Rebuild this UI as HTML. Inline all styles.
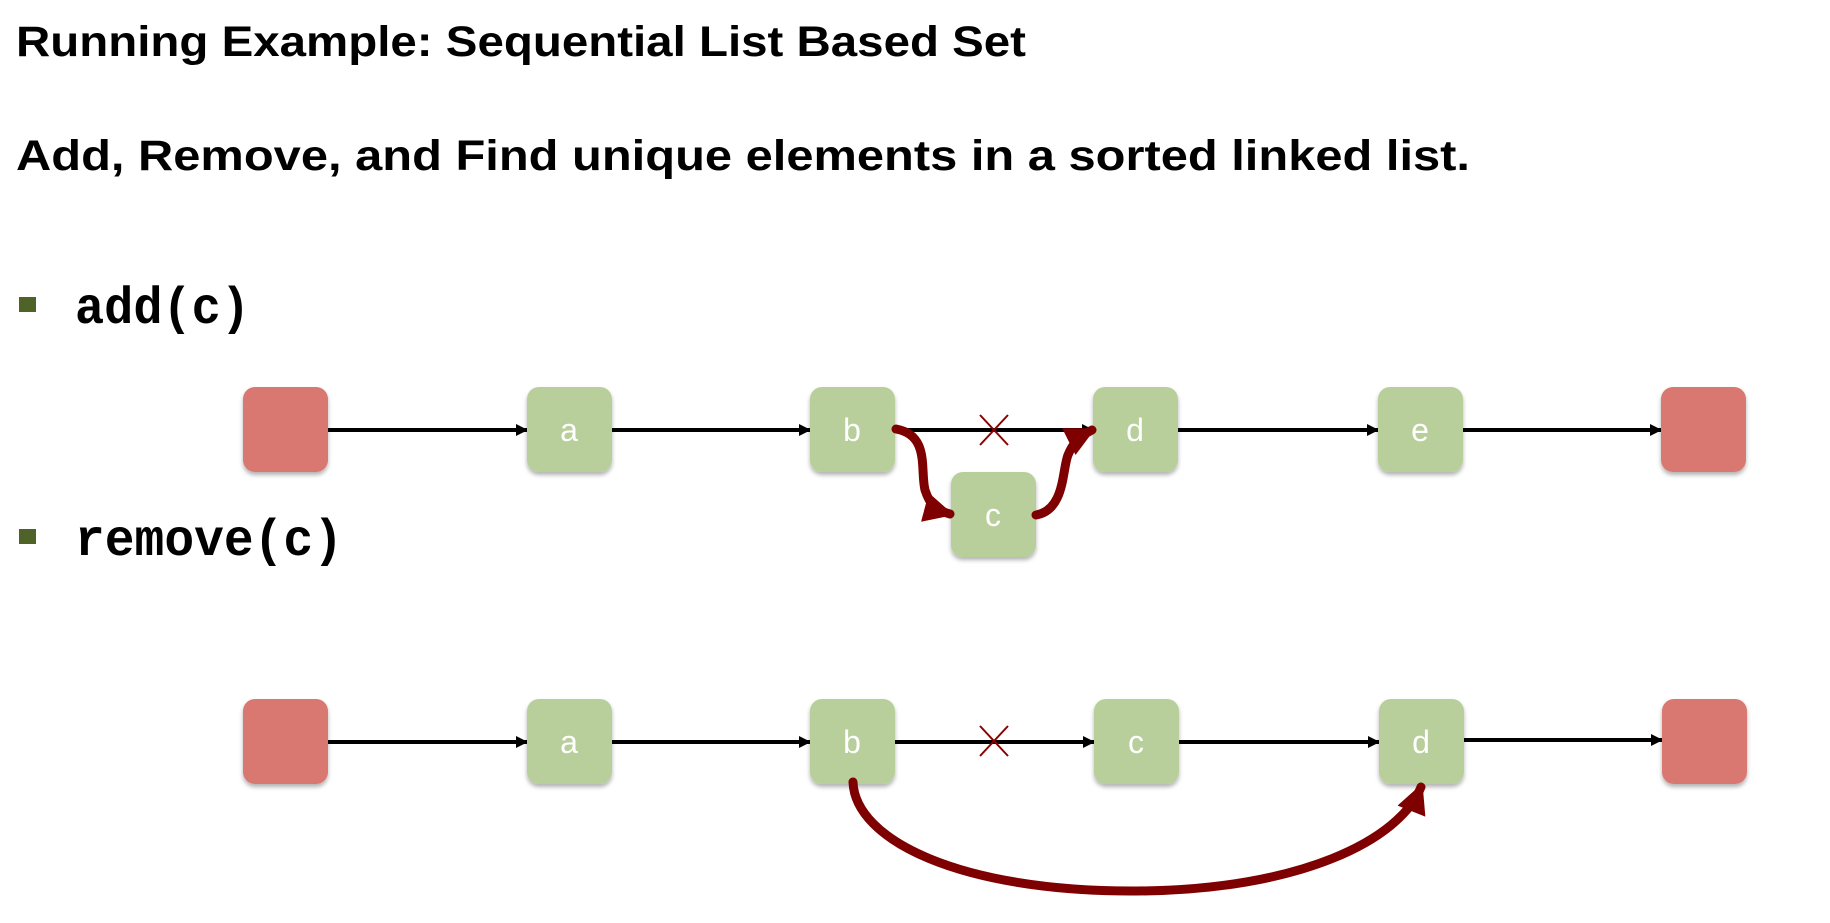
<!DOCTYPE html>
<html><head><style>
html,body{margin:0;padding:0;background:#fff;}
svg{display:block;}
</style></head><body>
<svg width="1830" height="923" viewBox="0 0 1830 923" xmlns="http://www.w3.org/2000/svg">
<defs>
<marker id="ah" markerWidth="12" markerHeight="12" refX="11" refY="6" orient="auto" markerUnits="userSpaceOnUse"><path d="M0,0 L12,6 L0,12 z" fill="#000"/></marker>
<marker id="rh" markerWidth="32" markerHeight="30" refX="26" refY="15" orient="auto" markerUnits="userSpaceOnUse"><path d="M0,0 L30,15 L0,30 z" fill="#7f0000"/></marker>
<filter id="sh" x="-20%" y="-20%" width="140%" height="140%"><feDropShadow dx="0" dy="3" stdDeviation="2" flood-color="#000" flood-opacity="0.3"/></filter>
</defs>
<g font-family="'Liberation Sans', sans-serif" font-weight="bold" fill="#000">
<text x="16" y="56" font-size="43" textLength="1010" lengthAdjust="spacingAndGlyphs">Running Example: Sequential List Based Set</text>
<text x="16" y="170" font-size="43" textLength="1454" lengthAdjust="spacingAndGlyphs">Add, Remove, and Find unique elements in a sorted linked list.</text>
</g>
<rect x="19" y="297" width="17" height="15" fill="#4f6228"/>
<rect x="19" y="529" width="17" height="15" fill="#4f6228"/>
<g font-family="'Liberation Mono', monospace" font-weight="bold" font-size="52" fill="#000">
<text x="75" y="323" textLength="175" lengthAdjust="spacingAndGlyphs">add(c)</text>
<text x="75" y="555" textLength="268" lengthAdjust="spacingAndGlyphs">remove(c)</text>
</g>
<g stroke="#000" stroke-width="4" fill="none" marker-end="url(#ah)">
<line x1="328" y1="430" x2="527" y2="430"/>
<line x1="612" y1="430" x2="810" y2="430"/>
<line x1="895" y1="430" x2="1093" y2="430"/>
<line x1="1178" y1="430" x2="1378" y2="430"/>
<line x1="1463" y1="430" x2="1661" y2="430"/>
</g>
<g stroke="#000" stroke-width="4" fill="none" marker-end="url(#ah)">
<line x1="328" y1="742" x2="527" y2="742"/>
<line x1="612" y1="742" x2="810" y2="742"/>
<line x1="895" y1="742" x2="1094" y2="742"/>
<line x1="1179" y1="742" x2="1379" y2="742"/>
<line x1="1464" y1="740" x2="1662" y2="740"/>
</g>
<g filter="url(#sh)">
<rect x="243" y="387" width="85" height="85" rx="12" fill="#d97871"/>
<rect x="527" y="387" width="85" height="85" rx="12" fill="#b8cf9b"/>
<rect x="810" y="387" width="85" height="85" rx="12" fill="#b8cf9b"/>
<rect x="1093" y="387" width="85" height="85" rx="12" fill="#b8cf9b"/>
<rect x="1378" y="387" width="85" height="85" rx="12" fill="#b8cf9b"/>
<rect x="1661" y="387" width="85" height="85" rx="12" fill="#d97871"/>
<rect x="951" y="472" width="85" height="85" rx="12" fill="#b8cf9b"/>
<rect x="243" y="699" width="85" height="85" rx="12" fill="#d97871"/>
<rect x="527" y="699" width="85" height="85" rx="12" fill="#b8cf9b"/>
<rect x="810" y="699" width="85" height="85" rx="12" fill="#b8cf9b"/>
<rect x="1094" y="699" width="85" height="85" rx="12" fill="#b8cf9b"/>
<rect x="1379" y="699" width="85" height="85" rx="12" fill="#b8cf9b"/>
<rect x="1662" y="699" width="85" height="85" rx="12" fill="#d97871"/>
</g>
<g font-family="'Liberation Sans', sans-serif" font-size="32" fill="#fff" text-anchor="middle">
<text x="569" y="441">a</text><text x="852" y="441">b</text><text x="1135" y="441">d</text><text x="1420" y="441">e</text>
<text x="993" y="526">c</text>
<text x="569" y="753">a</text><text x="852" y="753">b</text><text x="1136" y="753">c</text><text x="1421" y="753">d</text>
</g>
<g stroke="#8b0000" stroke-width="2">
<line x1="980" y1="415" x2="1008" y2="445"/><line x1="1008" y1="415" x2="980" y2="445"/>
<line x1="980" y1="726" x2="1008" y2="756"/><line x1="1008" y1="726" x2="980" y2="756"/>
</g>
<g stroke="#7f0000" stroke-width="9" fill="none" stroke-linecap="round" marker-end="url(#rh)">
<path d="M896,429 C930,435 920,470 925,490 C930,505 935,510 950,514"/>
<path d="M1036,515 C1065,510 1062,470 1068,455 C1072,445 1078,437 1092,430"/>
<path d="M853,782 C855,840 960,892 1137,891 C1300,890 1400,840 1421,787"/>
</g>
</svg>
</body></html>
